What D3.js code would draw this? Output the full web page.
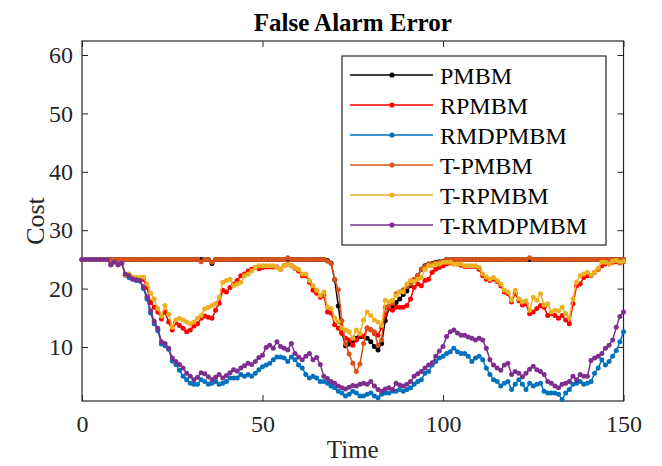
<!DOCTYPE html>
<html>
<head>
<meta charset="utf-8">
<script src="https://cdn.jsdelivr.net/npm/d3@7"></script>
<style>
    body { margin: 0; background: #fff; }
    text { font-family: "Liberation Serif", "Times New Roman", serif; }
</style>
</head>
<body>
<div id="chart"></div>
<script>
// ----------------
// False Alarm Error data (one value per time step, t = 0..150)
// ----------------
const seriesNames = ["PMBM", "RPMBM", "RMDPMBM", "T-PMBM", "T-RPMBM", "T-RMDPMBM"];
const seriesColors = ["#000000", "#ff0000", "#0072bd", "#d95319", "#edb120", "#7e2f8e"];
const xTicks = [0, 50, 100, 150];
const yTicks = [10, 20, 30, 40, 50, 60];

const pmbm = [
    25, 25, 25, 25, 25, 25, 25, 25, 25, 25,
    25, 25, 25, 25, 25, 25, 25, 25, 25, 25,
    25, 25, 25, 25, 25, 25, 25, 25, 25, 25,
    25, 25, 25, 25, 25, 25, 24.3, 25, 25, 25,
    25, 25, 25, 25, 25, 25, 25, 25, 25, 25,
    25, 25, 25, 25, 25, 25, 25, 25, 25, 25,
    25, 25, 25, 25, 25, 25, 25, 25, 24.8, 24.4,
    21.5, 17.0, 12.5, 10.2, 10.5, 11.0, 11.5, 11.8, 11.8, 11.5,
    10.9, 10.1, 9.5, 10.6, 14.5, 16.6, 17.0, 17.6, 18.2, 19.0,
    19.6, 20.5, 21.5, 22.2, 23.3, 23.9, 24.2, 24.3, 24.5, 24.6,
    24.7, 25, 25, 25, 25, 25, 25, 25, 25, 25,
    25, 25, 25, 25, 25, 25, 25, 25, 25, 25,
    25, 25, 25, 25, 25, 25, 25, 25, 25, 25,
    25, 25, 25, 25, 25, 25, 25, 25, 25, 25,
    25, 25, 25, 25, 25, 25, 25, 25, 25, 25,
    25
];

const rpmbm = [
    25, 25, 25, 25, 25, 25, 25, 25, 24.1, 24.6,
    24.1, 24.4, 22.3, 22.3, 21.9, 21.8, 21.7, 21.6, 20.2, 17.6,
    16.8, 16.0, 14.8, 16.0, 14.3, 12.9, 14.2, 13.7, 13.2, 12.6,
    12.9, 13.6, 14.0, 14.9, 15.3, 15.1, 14.9, 16.3, 17.5, 19.7,
    19.4, 20.2, 20.8, 21.4, 22.2, 22.5, 23.0, 23.3, 23.6, 23.4,
    23.6, 23.7, 23.7, 23.7, 23.7, 23.3, 23.9, 24.2, 23.9, 23.5,
    23.0, 22.2, 22.2, 21.1, 19.7, 19.2, 18.5, 18.8, 16.0, 15.8,
    13.8, 13.2, 12.3, 11.5, 11.2, 10.3, 11.2, 12.0, 11.8, 13.2,
    12.9, 12.3, 12.0, 13.4, 15.5, 16.6, 16.3, 16.8, 16.8, 16.8,
    17.1, 18.2, 20.2, 20.8, 20.5, 21.4, 21.6, 22.8, 23.3, 23.6,
    23.9, 24.2, 24.4, 24.2, 24.2, 24.0, 23.8, 23.8, 23.8, 23.8,
    23.3, 22.2, 21.6, 21.4, 21.6, 21.2, 20.5, 19.4, 19.1, 17.7,
    19.2, 17.9, 17.2, 17.4, 15.7, 16.0, 16.6, 17.1, 16.8, 15.4,
    15.7, 15.4, 14.9, 15.4, 14.6, 14.0, 17.4, 20.5, 20.8, 21.9,
    22.2, 22.2, 22.8, 23.3, 23.9, 24.2, 24.2, 24.5, 24.6, 24.4,
    24.6
];

const rmdpmbm = [
    25, 25, 25, 25, 25, 25, 25, 25, 24.1, 24.6,
    24.1, 24.4, 22.3, 21.9, 21.6, 21.4, 21.3, 20.0, 18.2, 15.8,
    14.0, 12.8, 10.5, 10.2, 9.6, 7.6, 7.0, 6.0, 5.0, 4.4,
    3.8, 3.6, 3.6, 4.4, 4.1, 3.6, 3.8, 4.1, 3.6, 3.8,
    4.1, 4.7, 4.7, 4.7, 5.3, 5.0, 5.3, 5.0, 5.5, 6.1,
    6.6, 6.9, 7.2, 7.8, 8.3, 8.3, 8.1, 7.5, 8.3, 7.8,
    6.9, 6.4, 5.3, 4.7, 5.0, 4.7, 4.1, 4.1, 3.8, 3.3,
    3.0, 2.4, 2.1, 1.6, 1.9, 2.4, 2.1, 1.6, 1.6, 1.9,
    2.1, 1.6, 1.3, 1.9, 2.1, 2.1, 2.4, 2.4, 2.7, 2.4,
    2.7, 3.0, 3.6, 4.1, 4.4, 5.5, 5.8, 6.9, 7.5, 8.1,
    8.4, 8.9, 9.2, 9.8, 9.2, 8.9, 8.9, 8.4, 7.5, 8.1,
    8.4, 7.8, 6.4, 5.3, 4.4, 4.1, 3.3, 3.8, 4.1, 2.7,
    3.6, 4.4, 3.6, 2.7, 3.8, 3.3, 3.6, 3.8, 2.4, 2.1,
    2.1, 2.1, 1.9, 1.0, 2.1, 2.7, 3.6, 3.8, 4.1, 3.6,
    3.8, 4.1, 5.5, 6.4, 7.8, 6.9, 7.5, 8.4, 9.4, 10.9,
    12.6
];

const tPmbm = [
    25, 25, 25, 25, 25, 25, 25, 25, 25, 25,
    25, 25, 25, 25, 25, 25, 25, 25, 25, 25,
    25, 25, 25, 25, 25, 25, 25, 25, 25, 25,
    25, 25, 25, 24.6, 25, 25, 24.5, 25, 25, 25,
    25, 25, 25, 25, 25, 25, 25, 25, 25, 25,
    25, 25, 25, 25, 25, 25, 25, 25.3, 25, 25,
    25, 25, 25, 25, 25, 25, 25, 25, 24.7, 24.3,
    21.6, 19.8, 14.5, 10.5, 8.8, 7.2, 5.8, 7.1, 10.6, 13.3,
    13.0, 12.6, 10.3, 11.2, 16.8, 17.0, 17.5, 19.1, 19.4, 19.8,
    20.3, 20.8, 21.6, 22.3, 23.3, 23.8, 24.2, 24.2, 24.4, 24.5,
    24.6, 25, 25, 25, 25, 25, 25, 25, 25, 25,
    25, 25, 25, 25, 25, 25, 25, 25, 25, 25,
    25, 25, 25, 25, 25.3, 25, 25, 25, 25, 25,
    25, 25, 25, 25, 25, 25, 25, 25, 25, 25,
    25, 25, 25, 25, 25, 25, 25, 25, 25, 25,
    25
];

const tRpmbm = [
    25, 25, 25, 25, 25, 25, 25, 25, 24.1, 24.6,
    24.1, 24.4, 22.3, 22.5, 22.0, 21.9, 21.9, 22.0, 20.8, 19.2,
    18.2, 16.6, 15.3, 17.1, 15.6, 13.4, 14.6, 14.9, 14.6, 14.3,
    14.0, 14.3, 14.9, 15.4, 16.5, 16.8, 17.1, 17.4, 18.5, 21.1,
    21.4, 21.6, 20.5, 20.8, 21.1, 22.2, 22.5, 23.0, 23.6, 23.9,
    23.9, 23.9, 23.9, 23.9, 23.6, 23.3, 23.9, 24.2, 23.9, 23.6,
    23.3, 22.5, 22.5, 21.4, 20.5, 19.7, 18.8, 19.4, 16.8, 16.6,
    14.9, 14.3, 13.2, 12.9, 12.6, 11.5, 12.9, 12.3, 14.6, 16.0,
    15.4, 14.6, 14.3, 13.7, 18.0, 17.7, 18.0, 18.8, 19.4, 19.4,
    20.8, 21.4, 21.2, 21.6, 21.9, 23.3, 23.9, 23.9, 24.2, 24.2,
    24.5, 24.5, 24.5, 24.2, 24.2, 24.2, 23.9, 23.9, 23.9, 23.9,
    23.6, 22.5, 22.0, 21.6, 21.9, 21.4, 20.8, 19.7, 19.4, 18.0,
    19.7, 18.2, 17.7, 17.9, 16.3, 18.5, 18.0, 19.1, 17.2, 17.4,
    16.0, 16.3, 16.2, 16.8, 15.7, 15.0, 18.2, 21.1, 22.2, 22.5,
    22.8, 22.3, 22.8, 23.5, 24.5, 24.5, 24.2, 24.7, 24.8, 24.5,
    24.7
];

const tRmdpmbm = [
    25, 25, 25, 25, 25, 25, 25, 25, 24.1, 24.6,
    24.1, 24.4, 22.5, 22.2, 21.7, 21.5, 21.4, 20.3, 18.6, 16.2,
    14.4, 13.2, 10.9, 10.6, 9.8, 8.1, 7.5, 7.0, 6.4, 5.5,
    5.0, 4.4, 4.8, 5.6, 5.4, 4.9, 4.4, 4.8, 5.3, 4.7,
    5.1, 5.6, 6.1, 5.9, 6.4, 6.8, 7.2, 7.0, 7.5, 8.2,
    8.6, 9.9, 10.3, 9.8, 10.9, 10.1, 9.8, 9.5, 10.6, 8.9,
    8.3, 7.8, 8.4, 8.9, 7.8, 8.2, 7.0, 5.0, 4.6, 4.1,
    3.8, 3.3, 3.0, 2.8, 3.1, 3.4, 3.3, 3.6, 3.8, 3.6,
    4.1, 3.3, 2.7, 2.4, 2.8, 3.0, 2.7, 3.8, 3.5, 3.3,
    3.6, 4.1, 5.0, 5.4, 5.8, 6.4, 6.9, 7.3, 8.4, 9.3,
    10.1, 11.8, 12.6, 12.9, 12.4, 12.0, 12.0, 11.7, 11.5, 11.2,
    11.5, 11.2, 9.8, 7.8, 6.9, 6.4, 6.0, 6.9, 7.2, 5.3,
    5.8, 5.5, 4.9, 5.5, 6.2, 6.7, 6.1, 5.8, 5.3, 4.1,
    3.8, 3.3, 3.0, 3.6, 3.8, 4.1, 5.0, 4.4, 5.3, 5.0,
    5.0, 7.7, 8.1, 8.4, 8.9, 9.8, 10.3, 11.2, 13.4, 15.2,
    16.0
];

const allSeries = [pmbm, rpmbm, rmdpmbm, tPmbm, tRpmbm, tRmdpmbm];
const time = d3.range(0, pmbm.length);

// set the dimensions and margins of the graph
const margin = { top: 41, right: 38.5, bottom: 65, left: 82 },
    width = 662 - margin.left - margin.right,
    height = 466 - margin.top - margin.bottom;

const axisColor = "#262626";
const serif = "'Liberation Serif', 'Times New Roman', serif";

const svgRoot = d3.select("#chart")
    .append("svg")
    .attr("width", 662)
    .attr("height", 466);

const svg = svgRoot.append("g")
    .attr("transform", `translate(${margin.left},${margin.top})`);

// scales
const x = d3.scaleLinear()
    .domain([0, 150])
    .range([0, width]);

const y = d3.scaleLinear()
    .domain([0.75, 62.4])
    .range([height, 0]);

// axes: ticks point inwards on all four sides (box on)
function styleAxis(g) {
    g.attr("font-family", serif);
    g.select(".domain").remove();
    g.selectAll("line").attr("stroke", axisColor).attr("stroke-width", 1);
    g.selectAll("text")
        .attr("fill", axisColor)
        .style("font-size", "24px")
        .style("font-family", serif);
}

svg.append("g")
    .attr("transform", `translate(0,${height})`)
    .call(d3.axisBottom(x).tickValues(xTicks).tickSizeInner(-6).tickSizeOuter(0).tickPadding(14))
    .call(styleAxis);

svg.append("g")
    .call(d3.axisTop(x).tickValues(xTicks).tickSizeInner(-6).tickSizeOuter(0).tickFormat(""))
    .call(styleAxis);

svg.append("g")
    .call(d3.axisLeft(y).tickValues(yTicks).tickSizeInner(-6).tickSizeOuter(0).tickPadding(9))
    .call(styleAxis);

svg.append("g")
    .attr("transform", `translate(${width},0)`)
    .call(d3.axisRight(y).tickValues(yTicks).tickSizeInner(-6).tickSizeOuter(0).tickFormat(""))
    .call(styleAxis);

// plot box
svg.append("rect")
    .attr("width", width)
    .attr("height", height)
    .attr("fill", "none")
    .attr("stroke", axisColor)
    .attr("stroke-width", 1.2);

// lines with dot markers, drawn in legend order (last on top)
const line = d3.line()
    .x((d, i) => x(time[i]))
    .y(d => y(d));

allSeries.forEach(function(values, k) {
    const g = svg.append("g").attr("class", "series");
    g.append("path")
        .datum(values)
        .attr("fill", "none")
        .attr("stroke", seriesColors[k])
        .attr("stroke-width", 1.5)
        .attr("d", line);
    g.selectAll("circle")
        .data(values)
        .join("circle")
        .attr("cx", (d, i) => x(time[i]))
        .attr("cy", d => y(d))
        .attr("r", 2.5)
        .attr("fill", seriesColors[k]);
});

// title and axis labels
svgRoot.append("text")
    .attr("x", margin.left + width / 2)
    .attr("y", 31)
    .attr("text-anchor", "middle")
    .style("font-size", "25px")
    .style("font-weight", "bold")
    .style("font-family", serif)
    .attr("fill", "#000")
    .text("False Alarm Error");

svgRoot.append("text")
    .attr("x", margin.left + width / 2)
    .attr("y", 458)
    .attr("text-anchor", "middle")
    .style("font-size", "25px")
    .style("font-family", serif)
    .attr("fill", axisColor)
    .text("Time");

svgRoot.append("text")
    .attr("transform", `translate(44,${margin.top + height / 2})rotate(-90)`)
    .attr("text-anchor", "middle")
    .style("font-size", "26px")
    .style("font-family", serif)
    .attr("fill", axisColor)
    .text("Cost");

// legend
const legend = svgRoot.append("g")
    .attr("transform", "translate(342,56)");

legend.append("rect")
    .attr("width", 264)
    .attr("height", 189)
    .attr("fill", "#fff")
    .attr("stroke", axisColor)
    .attr("stroke-width", 1.2);

const rows = legend.selectAll("g.row")
    .data(seriesNames)
    .join("g")
    .attr("class", "row")
    .attr("transform", (d, i) => `translate(0,${19 + i * 30})`);

rows.append("line")
    .attr("x1", 8)
    .attr("x2", 91)
    .attr("stroke", (d, i) => seriesColors[i])
    .attr("stroke-width", 1.5);

rows.append("circle")
    .attr("cx", 50)
    .attr("r", 2.6)
    .attr("fill", (d, i) => seriesColors[i]);

rows.append("text")
    .attr("x", 98)
    .attr("dy", "0.36em")
    .style("font-size", "24px")
    .style("font-family", serif)
    .attr("fill", "#000")
    .text(d => d);
</script>
</body>
</html>
